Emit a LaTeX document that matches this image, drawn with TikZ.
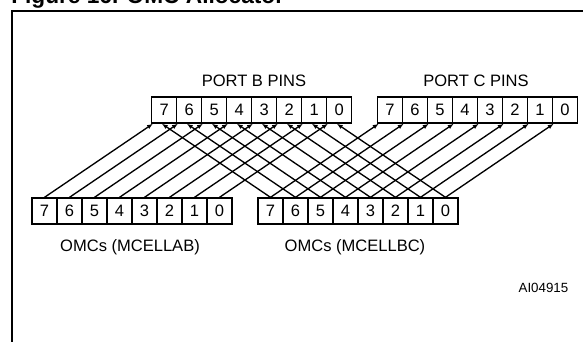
\documentclass[tikz,border=0pt]{standalone}
\usepackage{fontspec}
\setmainfont{Liberation Sans}
\usetikzlibrary{arrows.meta, positioning}

\begin{document}
\begin{tikzpicture}[
    x=0.75pt, y=-0.75pt,
    >={Latex[length=4.5pt,width=3.4pt]},
    every node/.style={font=\fontsize{12.4}{14}\selectfont},
    bitcell/.style={draw, line width=1pt, minimum width=18.75pt,
                    minimum height=19.5pt, inner sep=0pt},
    link/.style={->, line width=1pt},
]
\useasboundingbox (0,0) rectangle (583,342);
% figure title, its upper part runs off the page
\node[anchor=base west, inner sep=0pt, font=\fontsize{17}{20}\selectfont\bfseries]
   (title) at (11,4) {Figure 16. OMC Allocator};
% frame: only the left and top sides are on the page
\draw[line width=1.5pt] (12,360) -- (12,11) -- (600,11);

% bit cells, bit 7 on the left
\foreach \b in {0,...,7} {
   \pgfmathsetmacro{\k}{7-\b}
   \node[bitcell] (pb\b) at (164.2+25*\k,110) {\b};
   \node[bitcell] (pc\b) at (390+25*\k,110) {\b};
   \node[bitcell] (ab\b) at (44.5+25*\k,211) {\b};
   \node[bitcell] (bc\b) at (270.5+25*\k,211) {\b};
}
% group labels
\node[anchor=base] (pbname) at (254,87) {PORT B PINS};
\node[anchor=base] (pcname) at (476,87) {PORT C PINS};
\node[anchor=base] (abname) at (130,252) {OMCs (MCELLAB)};
\node[anchor=base] (bcname) at (355,252) {OMCs (MCELLBC)};
\node[anchor=base east, font=\fontsize{10}{12}\selectfont] (figid) at (573,293) {AI04915};

% MCELLAB goes to port B, MCELLBC to port B and port C
\foreach \b in {0,...,7} {
   \draw[link] (ab\b.north) -- ([xshift=1.5pt]pb\b.south west);
   \draw[link] (bc\b.north) -- ([xshift=8pt]pb\b.south west);
   \draw[link] (bc\b.north) -- ([xshift=1.5pt]pc\b.south west);
}
\end{tikzpicture}
\end{document}
